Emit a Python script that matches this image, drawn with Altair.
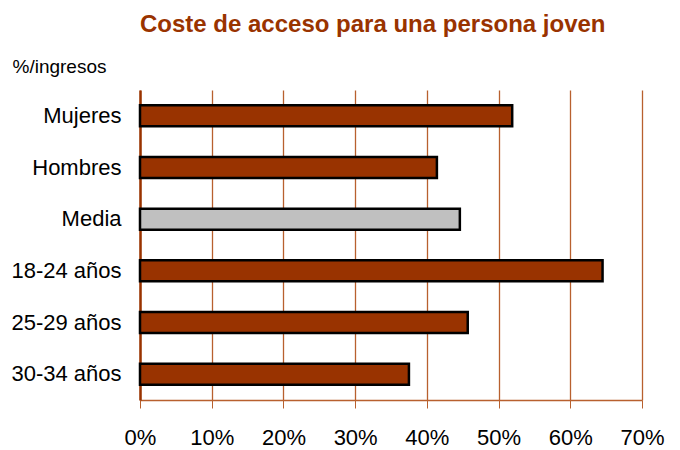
import altair as alt
import pandas as pd

categories = ["Mujeres", "Hombres", "Media", "18-24 años", "25-29 años", "30-34 años"]
values = [51.9, 41.4, 44.6, 64.5, 45.7, 37.5]
groups = ["grupo", "grupo", "media", "grupo", "grupo", "grupo"]
x_ticks = [0, 10, 20, 30, 40, 50, 60, 70]
title_text = "Coste de acceso para una persona joven"

df = pd.DataFrame({"cat": categories, "val": values, "grp": groups})

FONT = "Liberation Sans"
BROWN = "#993300"
GRID = "#b8602e"

bars = alt.Chart(df).mark_bar(
    stroke="black", strokeWidth=2.5, size=21
).encode(
    x=alt.X("val:Q",
            scale=alt.Scale(domain=[0, 70], nice=False),
            axis=alt.Axis(values=x_ticks, labelExpr="datum.value + '%'",
                          title=None, grid=True, gridColor=GRID, gridWidth=1.3,
                          domainColor=GRID, domainWidth=1.5, tickColor=GRID,
                          tickSize=8, labelFontSize=22, labelFont=FONT,
                          labelColor="black", labelPadding=19, labelFlush=False)),
    y=alt.Y("cat:N", sort=categories,
            axis=alt.Axis(title="%/ingresos", titleAngle=0, titleX=-128, titleY=-14,
                          titleAlign="left", titleBaseline="bottom", titleFont=FONT,
                          titleFontSize=19, titleFontWeight="normal", titleColor="black",
                          ticks=False, domainColor=BROWN, domainWidth=2.5,
                          labelFontSize=22, labelFont=FONT, labelColor="black",
                          labelPadding=19)),
    color=alt.Color("grp:N", scale=alt.Scale(domain=["grupo", "media"], range=[BROWN, "#c0c0c0"]),
                    legend=None),
)

title = alt.Chart(pd.DataFrame({"t": [title_text]})).mark_text(
    font=FONT, fontSize=24, fontWeight="bold", color=BROWN, align="left", baseline="alphabetic"
).encode(
    text="t:N", x=alt.value(0), y=alt.value(-58)
)

chart = alt.layer(bars, title).properties(
    width=502, height=310,
    padding={"left": 132, "top": 82, "right": 30, "bottom": 52},
    autosize=alt.AutoSizeParams(type="none"),
).configure_view(stroke=None)

chart.save("out.html", embed_options={"renderer": "svg", "actions": False})
